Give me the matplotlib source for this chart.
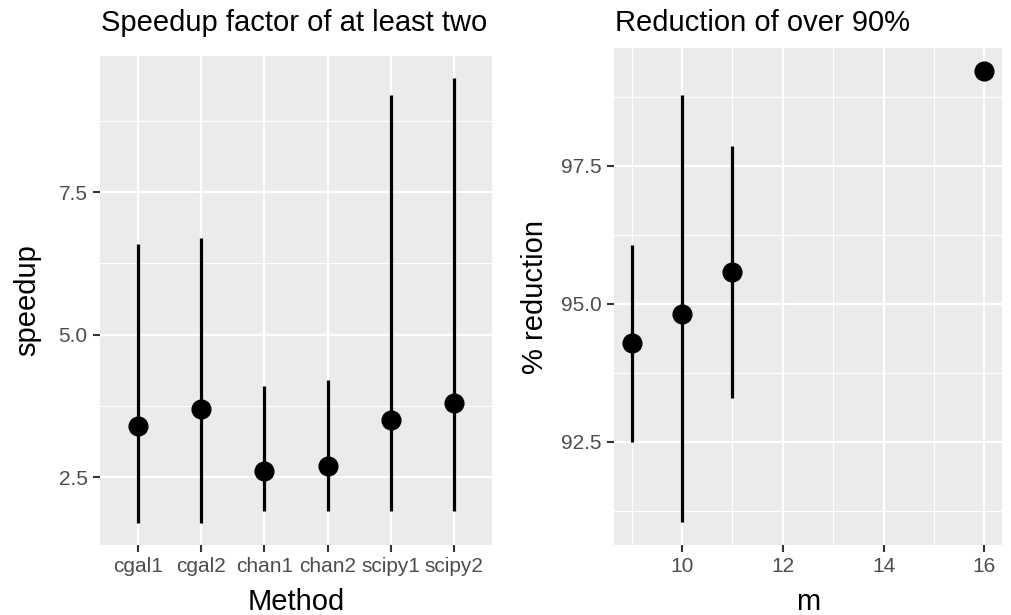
import matplotlib.pyplot as plt
import numpy as np
from matplotlib.ticker import FixedLocator

plt.rcParams['font.family'] = ['Liberation Sans', 'DejaVu Sans']

# left panel data
methods = ['cgal1', 'cgal2', 'chan1', 'chan2', 'scipy1', 'scipy2']
speedup = [3.4, 3.7, 2.6, 2.7, 3.5, 3.8]
speedup_lo = [1.7, 1.7, 1.9, 1.9, 1.9, 1.9]
speedup_hi = [6.6, 6.7, 4.1, 4.2, 9.2, 9.5]

# right panel data
m_vals = [9, 10, 11, 16]
reduction = [94.28, 94.81, 95.58, 99.22]
reduction_lo = [92.5, 91.04, 93.3, 99.22]
reduction_hi = [96.07, 98.78, 97.86, 99.22]

bg = '#EBEBEB'
tick_col = '#4D4D4D'
W, H = 1011, 615

fig = plt.figure(figsize=(W / 100, H / 100), dpi=100)
ax1 = fig.add_axes([100/W, 1-545/H, 392/W, 489/H])
ax2 = fig.add_axes([614/W, 1-545/H, 388/W, 497/H])


def style(ax):
    ax.set_facecolor(bg)
    for s in ax.spines.values():
        s.set_visible(False)
    ax.grid(which='major', color='white', linewidth=1.6)
    ax.grid(which='minor', color='white', linewidth=0.8)
    ax.set_axisbelow(True)
    ax.tick_params(which='major', length=5, width=1.5, color='#333333',
                   labelcolor=tick_col, labelsize=15, pad=4)
    ax.tick_params(which='minor', length=0)


def labels(ax, xlab, ylab, ylab_x):
    ax.set_xlabel(xlab, fontsize=21)
    ax.set_ylabel(ylab, fontsize=21)
    ax.xaxis.label.set_va('baseline')
    ax.yaxis.label.set_va('center')
    bb = ax.get_position()
    ax.xaxis.set_label_coords((bb.x0 + bb.x1) / 2, 1 - 610/H,
                              transform=fig.transFigure)
    ax.yaxis.set_label_coords(ylab_x / W, (bb.y0 + bb.y1) / 2,
                              transform=fig.transFigure)


# left panel
xs = np.arange(len(methods))
ax1.vlines(xs, speedup_lo, speedup_hi, color='black', linewidth=2.3)
ax1.plot(xs, speedup, 'o', color='black', markersize=13.5)
ax1.set_xticks(xs)
ax1.set_xticklabels(methods)
ax1.set_xlim(-0.6, len(methods) - 0.4)
lo, hi = min(speedup_lo), max(speedup_hi)
pad = 0.05 * (hi - lo)
ax1.set_ylim(lo - pad, hi + pad)
ax1.yaxis.set_major_locator(FixedLocator([2.5, 5.0, 7.5]))
ax1.yaxis.set_minor_locator(FixedLocator([3.75, 6.25, 8.75]))
ax1.set_yticklabels(['2.5', '5.0', '7.5'])
style(ax1)
ax1.grid(which='minor', axis='x', visible=False)
labels(ax1, 'Method', 'speedup', 27)

# right panel
ax2.vlines(m_vals, reduction_lo, reduction_hi, color='black', linewidth=2.3)
ax2.plot(m_vals, reduction, 'o', color='black', markersize=13.5)
lo, hi = min(m_vals), max(m_vals)
pad = 0.05 * (hi - lo)
ax2.set_xlim(lo - pad, hi + pad)
lo, hi = min(reduction_lo), max(reduction_hi)
pad = 0.05 * (hi - lo)
ax2.set_ylim(lo - pad, hi + pad)
ax2.xaxis.set_major_locator(FixedLocator([10, 12, 14, 16]))
ax2.xaxis.set_minor_locator(FixedLocator([9, 11, 13, 15]))
ax2.yaxis.set_major_locator(FixedLocator([92.5, 95.0, 97.5]))
ax2.yaxis.set_minor_locator(FixedLocator([91.25, 93.75, 96.25, 98.75]))
ax2.set_yticklabels(['92.5', '95.0', '97.5'])
style(ax2)
labels(ax2, 'm', '% reduction', 535)

fig.text(101/W, 1-31/H, 'Speedup factor of at least two', fontsize=21,
         ha='left', va='baseline')
fig.text(615/W, 1-31/H, 'Reduction of over 90%', fontsize=21,
         ha='left', va='baseline')

fig.savefig('out.png', dpi=100)
